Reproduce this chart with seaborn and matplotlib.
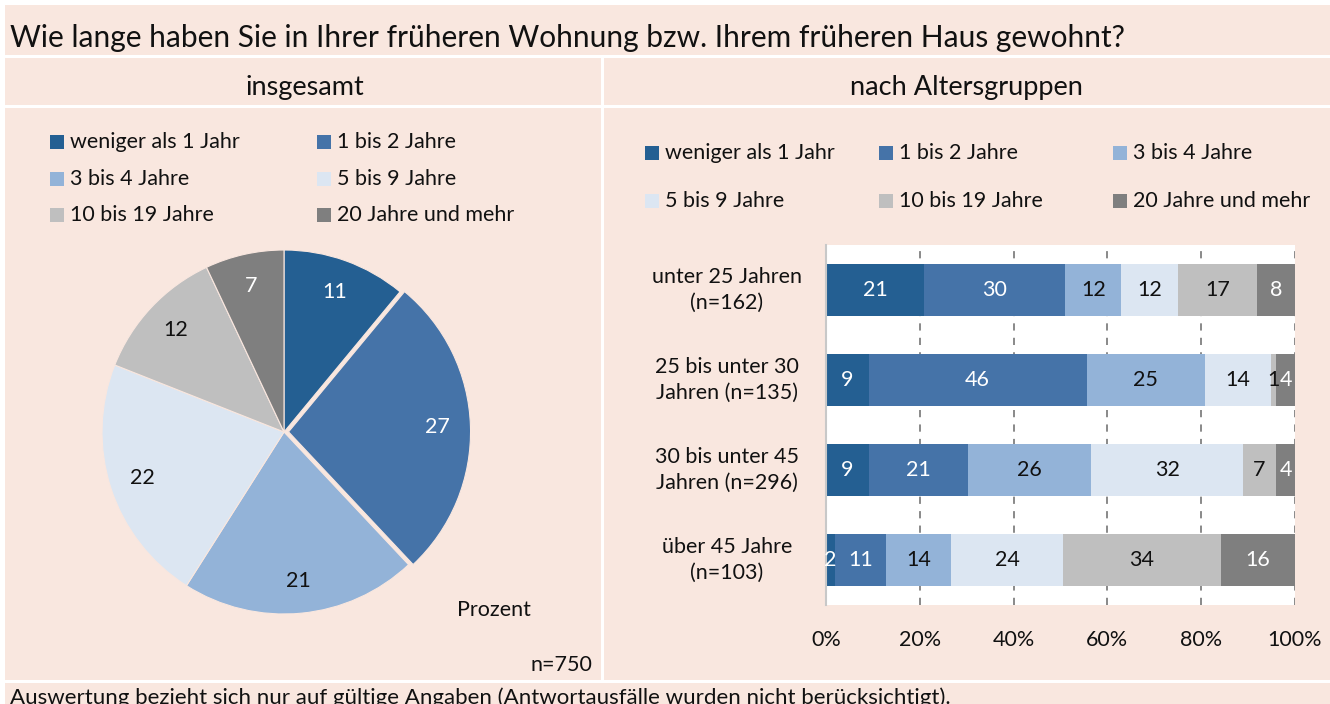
import numpy as np
import pandas as pd
import matplotlib
matplotlib.use("Agg")
import matplotlib.pyplot as plt
from matplotlib.patches import Rectangle
from matplotlib.lines import Line2D
import seaborn as sns

# ---- data -------------------------------------------------------------
categories = ["weniger als 1 Jahr", "1 bis 2 Jahre", "3 bis 4 Jahre",
              "5 bis 9 Jahre", "10 bis 19 Jahre", "20 Jahre und mehr"]
pie_values = [11, 27, 21, 22, 12, 7]

age_groups = ["unter 25 Jahren\n(n=162)",
              "25 bis unter 30\nJahren (n=135)",
              "30 bis unter 45\nJahren (n=296)",
              "über 45 Jahre\n(n=103)"]
u25 = [21, 30, 12, 12, 17, 8]
a25_30 = [9, 46, 25, 14, 1, 4]
a30_45 = [9, 21, 26, 32, 7, 4]
ue45 = [2, 11, 14, 24, 34, 16]

x_ticks = [0, 20, 40, 60, 80, 100]
x_tick_labels = ["0%", "20%", "40%", "60%", "80%", "100%"]

# ---- style --------------------------------------------------------------
colors = ["#245F92", "#4573A8", "#93B3D8", "#DCE6F2", "#BFBFBF", "#7F7F7F"]
text_on = ["white", "white", "#111111", "#111111", "#111111", "white"]
bg = "#F9E7DF"

sns.set_theme(style="white")
plt.rcParams["font.family"] = ["Lato", "DejaVu Sans"]
narrow = ["Lato", "DejaVu Sans"]
wide = ["Lato", "DejaVu Sans"]
fs = 15.5

W, H = 1330, 704
fig = plt.figure(figsize=(W / 100, H / 100), dpi=100)
fig.patch.set_facecolor("white")


def fx(px):
    return px / W


def fy(py):
    return 1 - py / H


# pink panel background with white separators
fig.patches.append(Rectangle((fx(5), 0), fx(W - 5), fy(5), transform=fig.transFigure,
                             facecolor=bg, edgecolor="none", zorder=-10))
for y in (56, 106, 681):
    fig.lines.append(Line2D([fx(5), 1], [fy(y), fy(y)], transform=fig.transFigure,
                            color="white", lw=2.2, zorder=-5))
fig.lines.append(Line2D([fx(602), fx(602)], [fy(56), fy(681)], transform=fig.transFigure,
                        color="white", lw=2.2, zorder=-5))

fig.text(fx(10), fy(38), "Wie lange haben Sie in Ihrer früheren Wohnung bzw. Ihrem früheren Haus gewohnt?",
         family=wide, fontsize=21.5, va="center", ha="left", color="#111111")
fig.text(fx(305), fy(88), "insgesamt", family=wide, fontsize=19.5, ha="center", va="center",
         color="#111111")
fig.text(fx(966), fy(88), "nach Altersgruppen", family=wide, fontsize=19.5, ha="center",
         va="center", color="#111111")
fig.text(fx(10), fy(698), "Auswertung bezieht sich nur auf gültige Angaben "
         "(Antwortausfälle wurden nicht berücksichtigt).",
         family=wide, fontsize=16, ha="left", va="center", color="#111111")


def legend_block(xs_sq, ys, order_rows):
    sq = 14
    for r, row in enumerate(order_rows):
        for c, k in enumerate(row):
            x0, yc = xs_sq[c], ys[r]
            fig.patches.append(Rectangle((fx(x0), fy(yc + sq / 2)), fx(sq), sq / H,
                                         transform=fig.transFigure, facecolor=colors[k],
                                         edgecolor="none", zorder=2))
            fig.text(fx(x0 + 20), fy(yc), categories[k], family=narrow, fontsize=fs,
                     ha="left", va="center", color="#111111")


legend_block([50, 317], [142, 179, 215], [[0, 1], [2, 3], [4, 5]])
legend_block([645, 879, 1113], [153, 201], [[0, 1, 2], [3, 4, 5]])

# ---- pie ----------------------------------------------------------------
r_px = 182
half = 1.1 * r_px
ax_pie = fig.add_axes([fx(284 - half), fy(432 + half), 2 * half / W, 2 * half / H])
ax_pie.set_facecolor("none")
explode = [0, 0.025, 0, 0, 0, 0]
wedges, _, autotexts = ax_pie.pie(
    pie_values, colors=colors, startangle=90, counterclock=False, explode=explode,
    autopct=lambda p: f"{p:.0f}", pctdistance=0.82,
    wedgeprops=dict(edgecolor=bg, linewidth=0.8),
    textprops=dict(family=narrow, fontsize=fs))
for t, c in zip(autotexts, text_on):
    t.set_color(c)
ax_pie.set_xlim(-1.1, 1.1)
ax_pie.set_ylim(-1.1, 1.1)
ax_pie.set_aspect("equal")
ax_pie.axis("off")

fig.text(fx(494), fy(610), "Prozent", family=narrow, fontsize=fs, ha="center", va="center",
         color="#111111")
fig.text(fx(592), fy(665), "n=750", family=narrow, fontsize=fs, ha="right", va="center",
         color="#111111")

# ---- stacked bars (100 %) -------------------------------------------------
rows = np.array([u25, a25_30, a30_45, ue45], dtype=float)
shares = rows / rows.sum(axis=1, keepdims=True) * 100
cum = np.cumsum(shares, axis=1)
df = pd.DataFrame(cum, columns=categories)
df["Gruppe"] = age_groups

ax = fig.add_axes([fx(826), fy(605), 469 / W, 360 / H])
ax.set_facecolor("white")
ax.set_axisbelow(True)
for k in reversed(range(len(categories))):
    sns.barplot(data=df, x=categories[k], y="Gruppe", orient="h", color=colors[k],
                saturation=1, width=0.58, ax=ax, linewidth=0, zorder=2)

for i in range(len(age_groups)):
    left = 0.0
    for k in range(len(categories)):
        w = shares[i, k]
        ax.text(left + w / 2, i, f"{rows[i, k]:.0f}", ha="center", va="center",
                color=text_on[k], family=narrow, fontsize=fs, zorder=3)
        left += w

ax.set_xlim(0, 100)
ax.set_ylim(3.5, -0.5)
ax.set_xticks(x_ticks)
ax.set_xticklabels(x_tick_labels, family=narrow, fontsize=fs, color="#111111")
ax.tick_params(axis="x", length=0, pad=18)
ax.set_yticks(range(len(age_groups)))
ax.set_yticklabels([])
ax.tick_params(axis="y", length=0)
for i, g in enumerate(age_groups):
    ax.text(-0.211, i, g, transform=ax.get_yaxis_transform(), ha="center", va="center",
            family=narrow, fontsize=fs, color="#111111", linespacing=1.35)
ax.xaxis.grid(True, linestyle=(0, (4, 4)), color="#808080", lw=1.3)
ax.yaxis.grid(False)
ax.set_xlabel("")
ax.set_ylabel("")
for s in ("top", "right", "bottom"):
    ax.spines[s].set_visible(False)
ax.spines["left"].set_color("#C8C8C8")
ax.spines["left"].set_linewidth(1.5)

fig.savefig("out.png", dpi=100, facecolor=fig.get_facecolor())
